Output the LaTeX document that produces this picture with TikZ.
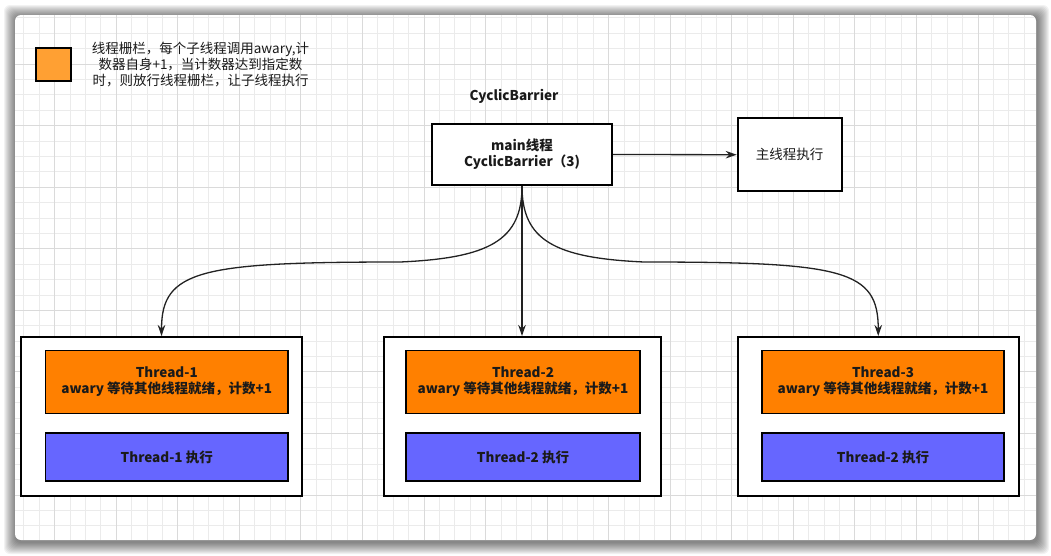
\documentclass[tikz,border=0pt]{standalone}
\usepackage{fontspec}
\setmainfont{Noto Sans CJK SC}
\usetikzlibrary{arrows.meta}
\definecolor{minorgrid}{HTML}{EBEBEB}
\definecolor{majorgrid}{HTML}{DADADA}
\definecolor{throrange}{HTML}{FF8000}
\definecolor{thrblue}{HTML}{6666FF}
\definecolor{legorange}{HTML}{FFA033}
\definecolor{txt}{HTML}{1A1A1A}
\definecolor{arr}{HTML}{222222}
\tikzset{
  every node/.style={font=\fontsize{13.5}{16}\selectfont, text=txt, align=center},
  box/.style={draw=black, line width=2pt, fill=white, inner sep=0pt},
  orbox/.style={draw=black, line width=1.6pt, fill=throrange, inner sep=0pt, font=\fontsize{13.5}{16}\selectfont\bfseries},
  blbox/.style={draw=black, line width=1.6pt, fill=thrblue, inner sep=0pt, font=\fontsize{13.5}{16}\selectfont\bfseries},
  conn/.style={draw=arr, line width=1.3pt, -{Stealth[length=11pt,width=7.5pt]}},
  minorline/.style={draw=minorgrid, line width=1pt},
  majorline/.style={draw=majorgrid, line width=1pt}
}
\begin{document}
\begin{tikzpicture}[x=1pt,y=-1pt]
\useasboundingbox (0,0) rectangle (1051,555);
% shadow
\foreach \k in {1,...,12}{
  \fill[black, opacity=0.05, rounded corners=6pt] (15-\k+1,15-\k+2) rectangle (1036+\k+1,540+\k+2);
}
\fill[white, rounded corners=6pt] (15,15) rectangle (1036,540);
% grid
\begin{scope}
\clip[rounded corners=6pt] (15,15) rectangle (1036,540);
\foreach \i [evaluate=\i as \xx using -6.87+15.39*\i] in {0,...,68}{
  \draw[minorline] (\xx,15) -- (\xx,540);
}
\foreach \j [evaluate=\j as \yy using 2.59+15.39*\j] in {0,...,36}{
  \draw[minorline] (15,\yy) -- (1036,\yy);
}
\foreach \i [evaluate=\i as \xx using -6.87+61.56*\i] in {0,...,17}{
  \draw[majorline] (\xx,15) -- (\xx,540);
}
\foreach \j [evaluate=\j as \yy using 2.59+61.56*\j] in {0,...,9}{
  \draw[majorline] (15,\yy) -- (1036,\yy);
}
\end{scope}
% legend
\node[draw=black, line width=2pt, fill=legorange, minimum width=35pt, minimum height=33pt, inner sep=0pt] (leg) at (53,64) {};
\node (legtxt) at (200.5,64.5) {线程栅栏，每个子线程调用awary,计\\数器自身+1，当计数器达到指定数\\时，则放行线程栅栏，让子线程执行};
% top
\node[font=\fontsize{13.5}{16}\selectfont\bfseries] (title) at (514,96) {CyclicBarrier};
\node[box, minimum width=180pt, minimum height=61pt, font=\fontsize{13.5}{16}\selectfont\bfseries] (main) at (522,154.5) {main线程\\CyclicBarrier（3)};
\node[box, minimum width=104pt, minimum height=73pt] (exec) at (789.7,154.7) {主线程执行};
% thread containers
\node[box, minimum width=281pt, minimum height=158.5pt] (t1) at (161.5,416.25) {};
\node[box, minimum width=277pt, minimum height=158.5pt] (t2) at (522.5,416.25) {};
\node[box, minimum width=280.5pt, minimum height=158.5pt] (t3) at (878.25,416.25) {};
\node[orbox, minimum width=242.5pt, minimum height=63pt] (o1) at (166.75,382) {Thread-1\\awary 等待其他线程就绪，计数+1};
\node[orbox, minimum width=234pt, minimum height=63pt] (o2) at (523,382) {Thread-2\\awary 等待其他线程就绪，计数+1};
\node[orbox, minimum width=242pt, minimum height=63pt] (o3) at (883,382) {Thread-3\\awary 等待其他线程就绪，计数+1};
\node[blbox, minimum width=242.5pt, minimum height=48pt] (b1) at (166.75,457) {Thread-1 执行};
\node[blbox, minimum width=234pt, minimum height=48pt] (b2) at (523,457) {Thread-2 执行};
\node[blbox, minimum width=242pt, minimum height=48pt] (b3) at (883,457) {Thread-2 执行};
% connectors
\draw[conn] (main.east) -- (exec.west);
\draw[conn] (main.south) -- (main.south |- t2.north);
\draw[conn] (main.south) .. controls (522,240) and (490,258) .. (400,262) .. controls (200,262) and (161.5,270) .. (t1.north);
\draw[conn] (main.south) .. controls (522,240) and (554,258) .. (644,262) .. controls (844,262) and (878.25,270) .. (t3.north);
\end{tikzpicture}
\end{document}
